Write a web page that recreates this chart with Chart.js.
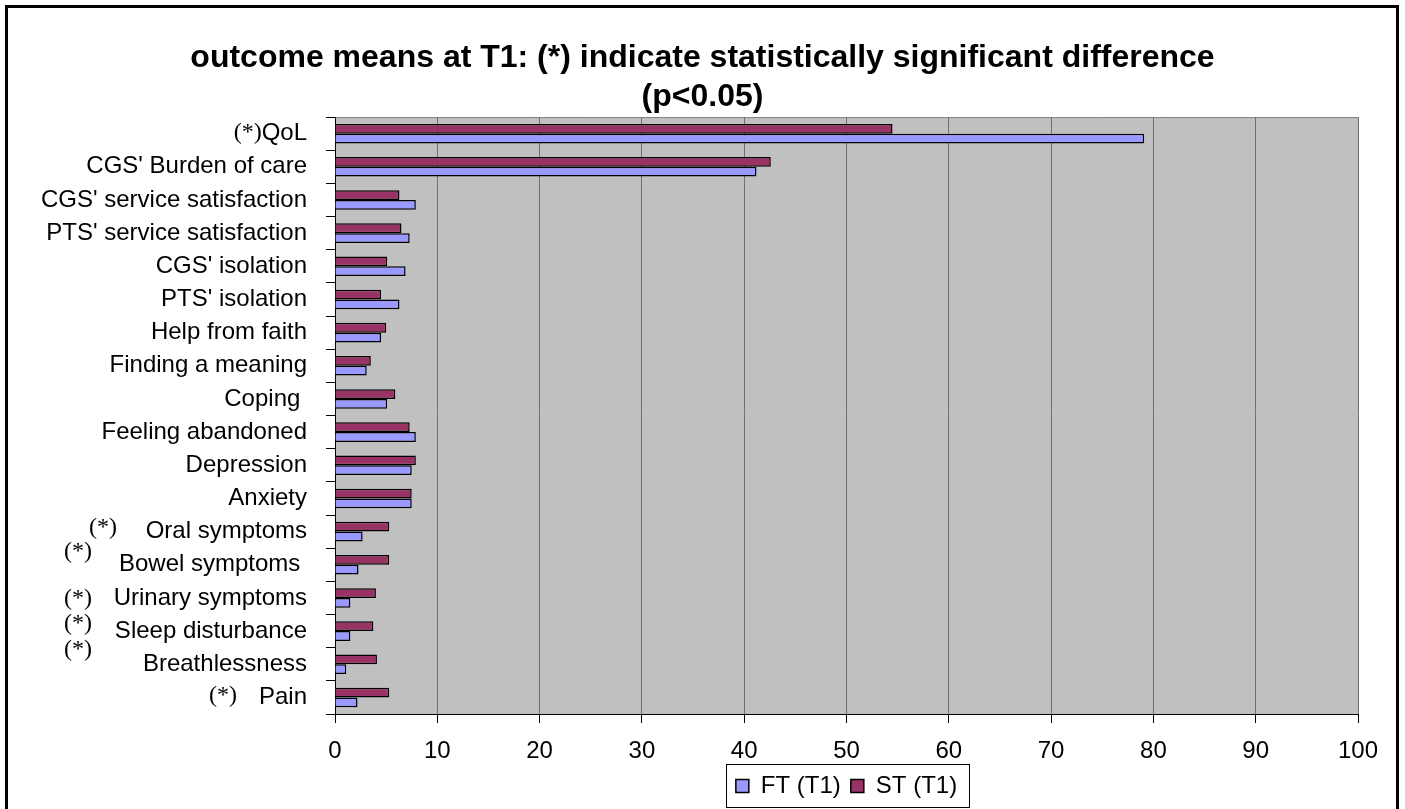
<!DOCTYPE html>
<html>
<head>
<meta charset="utf-8">
<script src="https://cdn.jsdelivr.net/npm/chart.js@4.4.0/dist/chart.umd.min.js"></script>
<style>
  html, body { margin: 0; padding: 0; background: #fff; }
  #wrap { position: relative; width: 1405px; height: 809px; }
</style>
</head>
<body>
<div id="wrap"><canvas id="grafico" width="1405" height="809"></canvas></div>
<script>
// values
const categories = ["QoL", "CGS' Burden of care", "CGS' service satisfaction", "PTS' service satisfaction",
  "CGS' isolation", "PTS' isolation", "Help from faith", "Finding a meaning", "Coping ",
  "Feeling abandoned", "Depression", "Anxiety", "Oral symptoms", "Bowel symptoms ",
  "Urinary symptoms", "Sleep disturbance", "Breathlessness", "Pain"];
const significant = [true, false, false, false, false, false, false, false, false,
  false, false, false, true, true, true, true, true, true];
const ftValues = [79.1, 41.2, 7.9, 7.3, 6.9, 6.3, 4.5, 3.1, 5.1, 7.9, 7.5, 7.5, 2.7, 2.3, 1.5, 1.5, 1.1, 2.2];
const stValues = [54.5, 42.6, 6.3, 6.5, 5.1, 4.5, 5.0, 3.5, 5.9, 7.3, 7.9, 7.5, 5.3, 5.3, 4.0, 3.75, 4.1, 5.3];
const xTicks = [0, 10, 20, 30, 40, 50, 60, 70, 80, 90, 100];
const titleLines = ['outcome means at T1: (*) indicate statistically significant difference', '(p<0.05)'];
const seriesNames = ['FT (T1)', 'ST (T1)'];

Chart.defaults.font.family = '"Liberation Sans", Arial, sans-serif';
Chart.defaults.color = '#000';

// where the (*) marks sit next to the labels
const markPos = {
  0: { attach: true, dy: -1 },
  12: { x: 89, dy: -4 },
  13: { x: 64, dy: -13 },
  14: { x: 64, dy: 1 },
  15: { x: 64, dy: -7 },
  16: { x: 64, dy: -15 },
  17: { x: 209, dy: -2 }
};

const decor = {
  id: 'decor',
  beforeDraw(chart) {
    const { ctx, chartArea: a } = chart;
    ctx.save();
    ctx.fillStyle = '#fff';
    ctx.fillRect(0, 0, chart.width, chart.height);
    ctx.fillStyle = '#c0c0c0';
    ctx.fillRect(a.left, a.top, a.right - a.left, a.bottom - a.top);
    ctx.strokeStyle = '#808080';
    ctx.lineWidth = 1;
    ctx.beginPath();
    ctx.moveTo(a.left, a.top + 0.5);
    ctx.lineTo(a.right, a.top + 0.5);
    ctx.stroke();
    ctx.restore();
  },
  afterDraw(chart) {
    const ctx = chart.ctx;
    ctx.save();
    // outer frame
    ctx.strokeStyle = '#000';
    ctx.lineWidth = 3;
    ctx.strokeRect(6.5, 6.5, 1391, 812);
    // legend frame
    const lg = chart.legend;
    const hb = lg.legendHitBoxes;
    const l = Math.min(...hb.map(h => h.left)) - 10;
    const r = Math.max(...hb.map(h => h.left + h.width)) + 12;
    ctx.lineWidth = 1;
    ctx.strokeRect(Math.round(l) + 0.5, lg.top + 0.5, Math.round(r - l), lg.bottom - lg.top - 1);
    // (*) marks
    const ys = chart.scales.y;
    ctx.fillStyle = '#000';
    ctx.textBaseline = 'middle';
    categories.forEach((c, i) => {
      if (!significant[i]) return;
      const p = markPos[i];
      const y = ys.getPixelForTick(i) + p.dy;
      let x = p.x, align = 'left';
      if (p.attach) {
        ctx.font = '24px "Liberation Sans", Arial, sans-serif';
        x = ys.right - 9 - 19 - ctx.measureText(c).width;
        align = 'right';
      }
      ctx.font = '24px "Liberation Serif", "Times New Roman", serif';
      ctx.textAlign = align;
      ctx.fillText('(*)', x, y);
    });
    ctx.restore();
  }
};

const data = {
  labels: categories,
  datasets: [
    {
      label: seriesNames[1],
      data: stValues,
      backgroundColor: '#993366',
      borderColor: '#000',
      borderWidth: 1.5
    },
    {
      label: seriesNames[0],
      data: ftValues,
      backgroundColor: '#9999ff',
      borderColor: '#000',
      borderWidth: 1.5
    }
  ]
};

const config = {
  type: 'bar',
  data: data,
  options: {
    indexAxis: 'y',
    responsive: false,
    animation: false,
    devicePixelRatio: 1,
    categoryPercentage: 0.59,
    barPercentage: 1,
    layout: { padding: { left: 0, right: 0, top: 0, bottom: 1 } },
    scales: {
      x: {
        min: 0,
        max: 100,
        afterBuildTicks: s => { s.ticks = xTicks.map(v => ({ value: v })); },
        afterFit: s => { s.height = 50; },
        ticks: { font: { size: 24 }, padding: 14, color: '#000', maxRotation: 0 },
        grid: { color: '#6f6f6f', tickColor: '#000', tickLength: 9, lineWidth: 1 },
        border: { color: '#000', width: 1 }
      },
      y: {
        afterFit: s => { s.width = 335; },
        ticks: { font: { size: 24 }, padding: 19, color: '#000', autoSkip: false },
        grid: { drawOnChartArea: false, color: '#000', tickLength: 9, offset: true },
        border: { color: '#000', width: 1 }
      },
      // empty strip on the right so the plot ends where the reference does
      yRight: {
        type: 'category',
        position: 'right',
        afterFit: s => { s.width = 47; },
        ticks: { display: false },
        grid: { display: false, drawTicks: false },
        border: { display: false }
      }
    },
    plugins: {
      title: {
        display: true,
        text: titleLines,
        color: '#000',
        font: { size: 32, weight: 'bold', lineHeight: 1.22 },
        padding: { top: 39, bottom: 0 }
      },
      legend: {
        position: 'bottom',
        fullSize: false,
        reverse: true,
        labels: { font: { size: 24 }, boxWidth: 13, boxHeight: 13, padding: 10, color: '#000' }
      },
      tooltip: { enabled: false }
    }
  },
  plugins: [decor]
};

var myChart = new Chart(document.getElementById('grafico'), config);
</script>
</body>
</html>
